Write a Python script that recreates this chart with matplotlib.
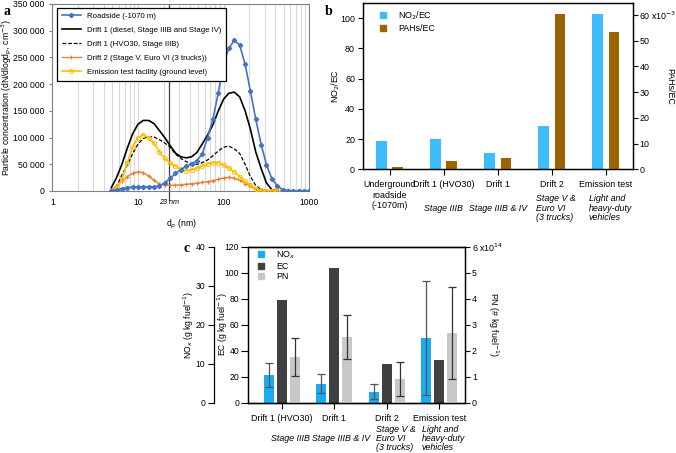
import matplotlib
matplotlib.use("Agg")
import matplotlib.pyplot as plt
from matplotlib.lines import Line2D
from matplotlib.ticker import FuncFormatter, NullFormatter, LogLocator

plt.rcParams['font.family'] = ['Liberation Sans', 'DejaVu Sans']
plt.rcParams['font.size'] = 6.4

# ---- panel a: size distributions ----
dp_nm = [4.87, 5.62, 6.49, 7.50, 8.66, 10.0, 11.5, 13.3, 15.4, 17.8, 20.5, 23.7,
         27.4, 31.6, 36.5, 42.2, 48.7, 56.2, 64.9, 75.0, 86.6, 100, 115, 133,
         154, 178, 205, 237, 274, 316, 365, 422, 487, 562, 649, 750, 866, 1000]
roadside = [500, 2000, 4500, 6500, 7500, 7600, 7600, 7600, 7800, 9500, 15000, 24000,
            33000, 40000, 46000, 51000, 57000, 69000, 100000, 135000, 184000, 240000, 267000, 282000,
            273000, 237000, 187000, 134000, 87000, 49000, 23000, 9500, 2500, 600, 0, 0, 0, 0]
drift1_diesel = [6000, 25000, 50000, 80000, 107000, 125000, 132000, 132000, 126000, 113000, 100000, 85000,
                 71000, 64000, 62000, 64000, 72000, 88000, 105000, 124000, 150000, 172000, 183000, 185000,
                 176000, 150000, 116000, 73000, 42000, 15000, 2500, 0, 0, 0, 0, 0, 0, 0]
drift1_hvo = [500, 8000, 30000, 48000, 70000, 88000, 98000, 102000, 101000, 96000, 90000, 82000,
              69000, 61000, 55000, 51000, 50000, 53000, 58000, 66000, 75000, 82000, 84000, 79000,
              70000, 50000, 27000, 10000, 2500, 300, 0, 0, 0, 0, 0, 0, 0, 0]
drift2 = [0, 10000, 19000, 27000, 33000, 36000, 34500, 28000, 20000, 13000, 11000, 10500,
          11000, 11500, 12500, 13500, 14500, 16000, 17500, 19500, 22000, 24500, 25500, 24000,
          20000, 14000, 8500, 3500, 1200, 300, 0, 0, 0, 0, 0, 0, 0, 0]
emission_fac = [0, 5000, 22000, 53000, 82000, 100000, 105000, 100000, 89000, 73000, 61000, 52000,
                46000, 41000, 38000, 39500, 43000, 46500, 50500, 53000, 53000, 49000, 43000, 36000,
                27000, 18000, 10500, 4500, 1000, 0, 0, 0, 0, 0, 0, 0, 0, 0]

# ---- panel b: ratios ----
b_cats = ["Underground\nroadside\n(-1070m)", "Drift 1 (HVO30)", "Drift 1", "Drift 2", "Emission test"]
b_sub = ["", "Stage IIIB", "Stage IIIB & IV", "Stage V &\nEuro VI\n(3 trucks)", "Light and\nheavy-duty\nvehicles"]
no2_ec = [18.5, 20, 10.5, 28.5, 103]
pahs_ec = [0.8e-3, 3.2e-3, 4.3e-3, 60.5e-3, 53.5e-3]

# ---- panel c: emission factors ----
c_cats = ["Drift 1 (HVO30)", "Drift 1", "Drift 2", "Emission test"]
c_sub = ["Stage IIIB", "Stage IIIB & IV", "Stage V &\nEuro VI\n(3 trucks)", "Light and\nheavy-duty\nvehicles"]
nox = [7.1, 4.9, 2.8, 16.5]
nox_err = [3.0, 2.4, 1.9, 14.6]
ec = [79.3, 103.7, 29.4, 32.5]
pn = [1.75e14, 2.53e14, 0.92e14, 2.69e14]
pn_err = [0.72e14, 0.83e14, 0.65e14, 1.76e14]

fig = plt.figure(figsize=(6.76, 4.53), dpi=100)

# ================= a =================
ax = fig.add_axes([0.0774, 0.5784, 0.3802, 0.4128])
ax.set_xscale('log')
ax.set_xlim(1, 1000)
ax.set_ylim(0, 350000)
ax.xaxis.set_minor_locator(LogLocator(base=10, subs=range(2, 10)))
ax.xaxis.set_minor_formatter(NullFormatter())
ax.grid(True, which='both', axis='x', color='#d9d9d9', lw=0.8)
ax.set_axisbelow(True)
ax.set_xticks([1, 10, 100, 1000])
ax.set_xticklabels(['1', '10', '100', '1000'])
ax.tick_params(axis='x', which='both', length=0, pad=5, labelsize=6.2)
ax.tick_params(axis='y', length=2, color='#808080', labelsize=6.2)
ax.set_yticks(range(0, 350001, 50000))
ax.yaxis.set_major_formatter(FuncFormatter(lambda v, p: f"{int(v):,}".replace(",", " ")))
for s in ax.spines.values():
    s.set_color('#808080')
    s.set_linewidth(0.8)

ax.plot([23, 23], [-17000, 350000], color='#404040', lw=0.9, clip_on=False, zorder=2)
ax.text(23, -0.045, "23 nm", transform=ax.get_xaxis_transform(), ha='center', va='top',
        fontsize=5.2, style='italic')

ax.plot(dp_nm, roadside, color='#4472c4', lw=1.2, marker='D', ms=2.2, label='Roadside (-1070 m)', zorder=5)
ax.plot(dp_nm, drift1_diesel, color='black', lw=1.2, label='Drift 1 (diesel, Stage IIIB and Stage IV)', zorder=4)
ax.plot(dp_nm, drift1_hvo, color='black', lw=0.9, ls=(0, (3, 1.5)), label='Drift 1 (HVO30, Stage IIIB)', zorder=4)
ax.plot(dp_nm, drift2, color='#ed7d31', lw=1.0, marker='+', ms=3.5, mew=0.8,
        label='Drift 2 (Stage V, Euro VI (3 trucks))', zorder=4)
ax.plot(dp_nm, emission_fac, color='#ffc000', lw=1.2, marker='o', ms=3, mfc='none', mew=0.7,
        label='Emission test facility (ground level)', zorder=4)
leg = ax.legend(loc='upper left', bbox_to_anchor=(0.005, 1.0), fontsize=5.6, frameon=True,
                fancybox=False, edgecolor='black', framealpha=1, handlelength=2.4,
                borderpad=0.6, labelspacing=0.85)
leg.get_frame().set_linewidth(0.9)
leg.set_zorder(10)
ax.set_xlabel("d$_p$ (nm)", fontsize=6.2)
ax.xaxis.set_label_coords(0.5, -0.145)
ax.set_ylabel("Particle concentration (dN/dlogd$_p$, cm$^{-3}$)", fontsize=6.2, va='center')
ax.yaxis.set_label_coords(-0.176, 0.5)
fig.text(0.005, 0.99, "a", fontsize=10, fontweight='bold', family='Liberation Serif', va='top')

# ================= b =================
bx = fig.add_axes([0.5365, 0.6263, 0.3999, 0.3671])
xb = list(range(len(b_cats)))
bx.bar([x - 0.15 for x in xb], no2_ec, width=0.2, color='#3dbdfb', label='NO$_2$/EC')
bx.set_ylim(0, 110)
bx.set_xlim(-0.5, 4.5)
bx.set_yticks(range(0, 101, 20))
bx.set_xticks(xb)
bx.set_xticklabels(b_cats, va='top')
bx.tick_params(axis='x', length=4, pad=4)
bx.tick_params(axis='y', length=3.5, pad=2)
bx.set_ylabel("NO$_2$/EC", va='center')
bx.yaxis.set_label_coords(-0.099, 0.5)
bx2 = bx.twinx()
bx2.bar([x + 0.15 for x in xb], pahs_ec, width=0.2, color='#9c6304', label='PAHs/EC')
bx2.set_ylim(0, 64.7e-3)
bx2.set_yticks([i * 1e-3 for i in range(0, 61, 10)])
bx2.yaxis.set_major_formatter(FuncFormatter(
    lambda v, p: "60 x10$^{-3}$" if round(v * 1e3) == 60 else f"{round(v * 1e3)}"))
bx2.tick_params(axis='y', length=3.5, pad=1)
bx2.set_ylabel("PAHs/EC", rotation=270, va='center')
bx2.yaxis.set_label_coords(1.135, 0.5)
for s in list(bx.spines.values()) + list(bx2.spines.values()):
    s.set_linewidth(0.9)
for i, t in enumerate(b_sub):
    if t:
        bx.text(i + (0.08 if "\n" in t else 0), -0.233, t, transform=bx.get_xaxis_transform(),
                ha='center', va='center', multialignment='left', style='italic',
                linespacing=1.05)
hb = [Line2D([], [], ls='none', marker='s', ms=4.5, color='#3dbdfb'),
      Line2D([], [], ls='none', marker='s', ms=4.5, color='#9c6304')]
bx2.legend(hb, ['NO$_2$/EC', 'PAHs/EC'], loc='upper left', bbox_to_anchor=(0.03, 1.01),
           frameon=False, fontsize=6.4, handlelength=1.0, handletextpad=1.2, labelspacing=0.25)
fig.text(0.481, 0.99, "b", fontsize=10, fontweight='bold', family='Liberation Serif', va='top')

# ================= c =================
cx = fig.add_axes([0.3673, 0.1110, 0.3206, 0.3444])
xc = list(range(len(c_cats)))
cx.bar(xc, ec, width=0.19, color='#404040')
cx.set_ylim(0, 120)
cx.set_xlim(-0.64, 3.49)
cx.set_yticks(range(0, 121, 20))
cx.set_xticks(xc)
cx.set_xticklabels(c_cats, va='top')
cx.tick_params(axis='x', length=4, pad=4)
cx.tick_params(axis='y', length=5, pad=1.5, labelsize=6.2)
cx.set_ylabel("EC (g kg fuel$^{-1}$)", va='center', fontsize=6.2)
cx.yaxis.set_label_coords(-0.116, 0.5)

nx = cx.twinx()
nx.yaxis.set_ticks_position('left')
nx.yaxis.set_label_position('left')
nx.spines['left'].set_position(('outward', 24.5))
nx.spines['left'].set_visible(True)
nx.spines['right'].set_visible(False)
nx.bar([x - 0.25 for x in xc], nox, width=0.19, color='#1aabf2', yerr=nox_err,
       error_kw=dict(ecolor='#555555', elinewidth=0.9, capsize=3, capthick=0.9))
nx.set_ylim(0, 40)
nx.set_yticks(range(0, 41, 10))
nx.tick_params(axis='y', length=4.5, pad=2, labelsize=6.2)
nx.set_ylabel("NO$_x$ (g kg fuel$^{-1}$)", va='center', fontsize=6.2)
nx.yaxis.set_label_coords(-0.274, 0.5)

px = cx.twinx()
px.bar([x + 0.25 for x in xc], pn, width=0.19, color='#c8c8c8', yerr=pn_err,
       error_kw=dict(ecolor='#333333', elinewidth=0.9, capsize=3, capthick=0.9))
px.set_ylim(0, 6e14)
px.set_yticks([i * 1e14 for i in range(0, 7)])
px.yaxis.set_major_formatter(FuncFormatter(
    lambda v, p: "6 x10$^{14}$" if round(v / 1e14) == 6 else f"{round(v / 1e14)}"))
px.tick_params(axis='y', length=3.5, pad=1.5)
px.set_ylabel("PN (# kg fuel$^{-1}$)", rotation=270, va='center')
px.yaxis.set_label_coords(1.129, 0.5)
for a_ in (cx, nx, px):
    for s in a_.spines.values():
        s.set_linewidth(0.9)

sub_off = [0.17, 0.12, 0.17, 0.08]
for i, t in enumerate(c_sub):
    px.text(i + sub_off[i], -0.23, t, transform=px.get_xaxis_transform(),
            ha='center', va='center', multialignment='left', style='italic',
            linespacing=1.05)
hc = [Line2D([], [], ls='none', marker='s', ms=4.5, color='#1aabf2'),
      Line2D([], [], ls='none', marker='s', ms=4.5, color='#404040'),
      Line2D([], [], ls='none', marker='s', ms=4.5, color='#c8c8c8')]
px.legend(hc, ['NO$_x$', 'EC', 'PN'], loc='upper left', bbox_to_anchor=(0.0, 1.035),
          frameon=False, fontsize=6.4, handlelength=1.0, handletextpad=1.2, labelspacing=0.12)
fig.text(0.271, 0.465, "c", fontsize=10, fontweight='bold', family='Liberation Serif', va='top')

fig.savefig("out.png", dpi=100)
